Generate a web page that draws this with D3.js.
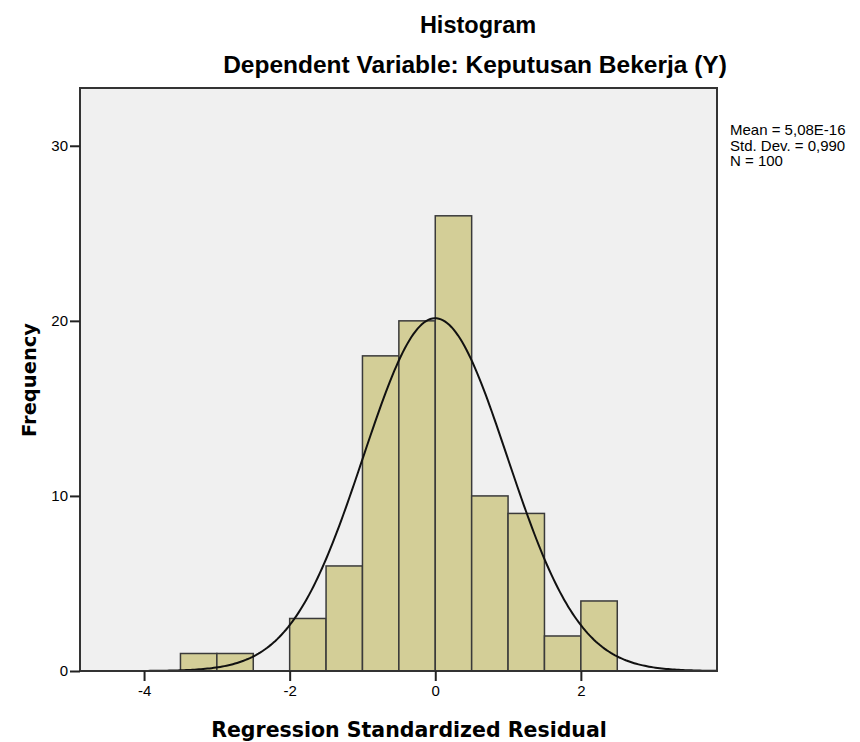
<!DOCTYPE html>
<html>
<head>
<meta charset="utf-8">
<script src="https://cdn.jsdelivr.net/npm/d3@7"></script>
<style>
  body { margin: 0; background: #fff; }
  svg text { fill: #000; }
</style>
</head>
<body>
<div id="chart"></div>
<script>
// histogram bins (lower edge) and counts
const binStarts = [-3.5, -3.0, -2.5, -2.0, -1.5, -1.0, -0.5, 0.0, 0.5, 1.0, 1.5, 2.0];
const binCounts = [1, 1, 0, 3, 6, 18, 20, 26, 10, 9, 2, 4];
const binWidth = 0.5;

// fit statistics shown in the legend
const statMean = 5.08e-16;
const statSd = 0.990;
const statN = 100;
const legendLines = ['Mean = 5,08E-16', 'Std. Dev. = 0,990', 'N = 100'];

const xTicks = [-4, -2, 0, 2];
const yTicks = [0, 10, 20, 30];

const width = 860;
const height = 742;
const plot = {left: 80, right: 717, top: 88, bottom: 671};

const svg = d3.select('#chart')
  .append('svg')
  .attr('width', width)
  .attr('height', height);

const x = d3.scaleLinear().domain([-4.88, 3.87]).range([plot.left, plot.right]);
const y = d3.scaleLinear().domain([0, 33.3]).range([plot.bottom, plot.top]);

// plot background
svg.append('rect')
  .attr('x', plot.left)
  .attr('y', plot.top)
  .attr('width', plot.right - plot.left)
  .attr('height', plot.bottom - plot.top)
  .attr('fill', '#f0f0f0');

// bars
svg.append('g')
  .selectAll('rect')
  .data(binStarts.map((s, i) => ({start: s, count: binCounts[i]})).filter((d) => d.count > 0))
  .enter()
  .append('rect')
  .attr('x', (d) => x(d.start))
  .attr('y', (d) => y(d.count))
  .attr('width', (d) => x(d.start + binWidth) - x(d.start))
  .attr('height', (d) => y(0) - y(d.count))
  .attr('fill', '#d3ce97')
  .attr('stroke', '#3a3a3a')
  .attr('stroke-width', 1.5);

// normal curve from the legend statistics
const curveXs = d3.range(0, 301).map((i) => x.domain()[0] + (x.domain()[1] - x.domain()[0]) * i / 300);
const normal = (v) => statN * binWidth * Math.exp(-0.5 * Math.pow((v - statMean) / statSd, 2)) / (statSd * Math.sqrt(2 * Math.PI));

svg.append('path')
  .datum(curveXs)
  .attr('fill', 'none')
  .attr('stroke', '#111')
  .attr('stroke-width', 2)
  .attr('d', d3.line().x((d) => x(d)).y((d) => y(normal(d))));

// plot border
svg.append('rect')
  .attr('x', plot.left)
  .attr('y', plot.top)
  .attr('width', plot.right - plot.left)
  .attr('height', plot.bottom - plot.top)
  .attr('fill', 'none')
  .attr('stroke', '#333')
  .attr('stroke-width', 2);

// axes
const xAxis = svg.append('g')
  .attr('transform', 'translate(0,' + plot.bottom + ')')
  .call(d3.axisBottom(x).tickValues(xTicks).tickFormat((d) => String(d))
    .tickSizeInner(10).tickSizeOuter(0).tickPadding(4));

const yAxis = svg.append('g')
  .attr('transform', 'translate(' + plot.left + ',0)')
  .call(d3.axisLeft(y).tickValues(yTicks).tickFormat((d) => String(d))
    .tickSizeInner(10).tickSizeOuter(0).tickPadding(2));

[xAxis, yAxis].forEach((g) => {
  g.select('.domain').remove();
  g.selectAll('line').attr('stroke', '#222').attr('stroke-width', 2);
  g.selectAll('text')
    .style('font-family', 'Liberation Sans, Arial, sans-serif')
    .style('font-size', '15px')
    .attr('fill', '#000');
});

// titles
svg.append('text')
  .attr('x', 478)
  .attr('y', 33)
  .attr('text-anchor', 'middle')
  .style('font-family', 'Liberation Sans, Arial, sans-serif')
  .style('font-size', '23.5px')
  .style('font-weight', 'bold')
  .text('Histogram');

svg.append('text')
  .attr('x', 475)
  .attr('y', 73)
  .attr('text-anchor', 'middle')
  .style('font-family', 'Liberation Sans, Arial, sans-serif')
  .style('font-size', '24.5px')
  .style('font-weight', 'bold')
  .text('Dependent Variable: Keputusan Bekerja (Y)');

svg.append('text')
  .attr('x', 409)
  .attr('y', 737)
  .attr('text-anchor', 'middle')
  .style('font-family', 'DejaVu Sans, sans-serif')
  .style('font-size', '20.5px')
  .style('font-weight', 'bold')
  .text('Regression Standardized Residual');

svg.append('text')
  .attr('transform', 'translate(36,' + 380 + ') rotate(-90)')
  .attr('text-anchor', 'middle')
  .style('font-family', 'DejaVu Sans, sans-serif')
  .style('font-size', '19.5px')
  .style('font-weight', 'bold')
  .text('Frequency');

// legend
svg.append('g')
  .selectAll('text')
  .data(legendLines)
  .enter()
  .append('text')
  .attr('x', 730)
  .attr('y', (d, i) => 135 + i * 15.5)
  .style('font-family', 'Liberation Sans, Arial, sans-serif')
  .style('font-size', '15px')
  .text((d) => d);
</script>
</body>
</html>
